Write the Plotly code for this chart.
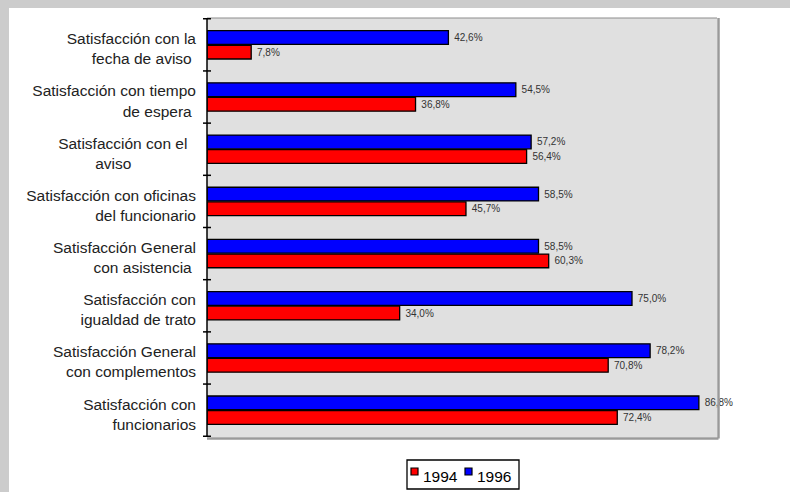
import plotly.graph_objects as go

# Survey categories, listed from top to bottom as drawn
categories = [
    "Satisfacción con la<br>fecha de aviso\u00a0",
    "Satisfacción con tiempo<br>de espera\u00a0",
    "Satisfacción con el\u00a0\u00a0<br>aviso\u00a0\u00a0\u00a0\u00a0\u00a0\u00a0\u00a0\u00a0\u00a0\u00a0\u00a0\u00a0\u00a0\u00a0\u00a0",
    "Satisfacción con oficinas<br>del funcionario",
    "Satisfacción General<br>con asistencia\u00a0",
    "Satisfacción con<br>igualdad de trato",
    "Satisfacción General<br>con complementos",
    "Satisfacción con<br>funcionarios",
]
series_names = ["1994", "1996"]
values_1994 = [7.8, 36.8, 56.4, 45.7, 60.3, 34.0, 70.8, 72.4]
values_1996 = [42.6, 54.5, 57.2, 58.5, 58.5, 75.0, 78.2, 86.8]
colors = ["#ff0000", "#0000ff"]

W, H = 790, 492
ML, MR, MT, MB = 207, 73, 18, 55
PW, PH = W - ML - MR, H - MT - MB
FONT = "Liberation Sans, Arial, sans-serif"


def px_x(p):
    """Paper x from a pixel column."""
    return (p - ML) / PW


def px_y(p):
    """Paper y from a pixel row (measured from the top)."""
    return (H - MB - p) / PH


fig = go.Figure()
for name, vals, col in zip(series_names, [values_1994, values_1996], colors):
    fig.add_trace(go.Bar(
        y=categories, x=vals, name=name, orientation="h",
        marker=dict(color=col, line=dict(color="#000000", width=1.3)),
        texttemplate="\u00a0%{x:.1f}%", textposition="outside",
        textfont=dict(family=FONT, size=10, color="#333333"),
        cliponaxis=False, showlegend=False,
    ))

shapes = []
annotations = []
# gray frame strips on top and left
shapes.append(dict(type="rect", xref="paper", yref="paper",
                   x0=px_x(0), x1=px_x(W), y0=px_y(8), y1=px_y(0),
                   fillcolor="#cccccc", line=dict(width=0), layer="below"))
shapes.append(dict(type="rect", xref="paper", yref="paper",
                   x0=px_x(0), x1=px_x(9), y0=px_y(H), y1=px_y(0),
                   fillcolor="#cccccc", line=dict(width=0), layer="below"))
# plot area border with a soft shadow on right and bottom
shapes.append(dict(type="line", xref="paper", yref="paper", x0=px_x(W - MR + 1.5), x1=px_x(W - MR + 1.5),
                   y0=px_y(H - MB + 1.5), y1=1, line=dict(color="#9a9a9a", width=2.5)))
shapes.append(dict(type="line", xref="paper", yref="paper", x0=0, x1=px_x(W - MR + 1.5),
                   y0=px_y(H - MB + 1.5), y1=px_y(H - MB + 1.5), line=dict(color="#9a9a9a", width=2.5)))
shapes.append(dict(type="line", xref="paper", yref="paper", x0=0, x1=1,
                   y0=1, y1=1, line=dict(color="#8c8c8c", width=1)))
# category axis with crossing ticks at group boundaries
shapes.append(dict(type="line", xref="paper", yref="paper", x0=0, x1=0, y0=0, y1=1,
                   line=dict(color="#000000", width=1.5)))
for k in range(len(categories) + 1):
    shapes.append(dict(type="line", xref="paper", yref="y", x0=px_x(ML - 4), x1=px_x(ML + 4),
                       y0=k - 0.5, y1=k - 0.5, line=dict(color="#000000", width=1.5)))

# legend box
shapes.append(dict(type="rect", xref="paper", yref="paper",
                   x0=px_x(407), x1=px_x(519), y0=px_y(489), y1=px_y(460),
                   fillcolor="#ffffff", line=dict(color="#000000", width=1.3)))
legend_x = [411, 465]
for name, col, lx in zip(series_names, colors, legend_x):
    shapes.append(dict(type="rect", xref="paper", yref="paper",
                       x0=px_x(lx), x1=px_x(lx + 7), y0=px_y(475), y1=px_y(468),
                       fillcolor=col, line=dict(color="#000000", width=1.2)))
    annotations.append(dict(xref="paper", yref="paper", x=px_x(lx + 10), y=px_y(476),
                            text=name, showarrow=False, xanchor="left", yanchor="middle",
                            font=dict(family=FONT, size=15.5, color="#000000")))

fig.update_layout(
    width=W, height=H,
    margin=dict(l=ML, r=MR, t=MT, b=MB, autoexpand=False),
    paper_bgcolor="#ffffff", plot_bgcolor="#e0e0e0",
    barmode="group", bargap=0.44, bargroupgap=0.06,
    separators=",.",
    font=dict(family=FONT, size=15, color="#222222"),
    showlegend=False,
    shapes=shapes,
    annotations=annotations,
)
fig.update_xaxes(range=[0, 90], showgrid=False, showticklabels=False, zeroline=False,
                 ticks="", fixedrange=True)
fig.update_yaxes(categoryorder="array", categoryarray=categories[::-1], showgrid=False,
                 ticks="", ticklabelstandoff=10, ticklabelshift=4, automargin=False,
                 tickfont=dict(size=15.5, color="#222222"))

fig.write_html("out.html")
